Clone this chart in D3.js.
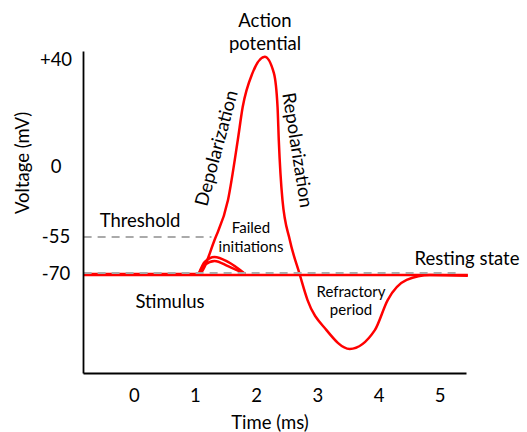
<!DOCTYPE html>
<html>
<head>
<meta charset="utf-8">
<script src="https://cdn.jsdelivr.net/npm/d3@7"></script>
<style>
  body { margin: 0; background: #fff; }
  text { font-family: Lato, "Noto Sans", sans-serif; fill: #000; }
</style>
</head>
<body>
<script>
const w = 527;
const h = 432;

// time (ms) and membrane voltage (mV)
const timeTicks = [0, 1, 2, 3, 4, 5];
const voltTicks = [-70, -55, 0, 40];
const restingV = -70;
const thresholdV = -55;

const apTime = [-0.83, 1.06, 1.32, 1.54, 1.70, 1.78, 1.94, 2.14, 2.29, 2.35, 2.37, 2.43, 2.55, 2.71, 2.84, 3.15, 3.53, 3.94, 4.15, 4.46, 4.84, 5.46];
const apVolt = [-70, -70, -56.2, -25.9, 10.1, 22.4, 35.1, 41.1, 35.1, 22.4, 10.1, -25.9, -56.2, -70, -77.9, -87.0, -92.7, -87.0, -77.9, -71.8, -70.3, -70.5];

// the two failed initiations
const failTime = [1.06, 1.16, 1.32, 1.54, 1.82];
const failVoltA = [-70, -65.1, -63.1, -65.1, -70];
const failVoltB = [-70, -66.3, -64.7, -66.8, -70];

const svg = d3.select("body").append("svg").attr("width", w).attr("height", h);

// scales: the drawing is schematic, so voltage axis is piecewise
const xScale = d3.scaleLinear().domain([-0.83, 5.43]).range([83, 466]);
const yScale = d3
  .scaleLinear()
  .domain([-100, -70, -55, 0, 40, 43])
  .range([373, 274, 237, 167, 60, 51]);

const line = d3
  .line()
  .x((d) => xScale(d[0]))
  .y((d) => yScale(d[1]))
  .curve(d3.curveMonotoneX);

// resting baseline in red
svg
  .append("path")
  .attr("d", line([[-0.83, restingV - 0.3], [5.46, restingV - 0.3]]))
  .attr("fill", "none")
  .attr("stroke", "#ff0000")
  .attr("stroke-width", 2.5);

// failed initiations
[failVoltA, failVoltB].forEach((vs) => {
  svg
    .append("path")
    .attr("d", line(failTime.map((t, i) => [t, vs[i]])))
    .attr("fill", "none")
    .attr("stroke", "#ff0000")
    .attr("stroke-width", 2.5);
});

// action potential
svg
  .append("path")
  .attr("d", line(apTime.map((t, i) => [t, apVolt[i]])))
  .attr("fill", "none")
  .attr("stroke", "#ff0000")
  .attr("stroke-width", 2.5);

// dashed guides
svg
  .append("line")
  .attr("x1", xScale(-0.82))
  .attr("x2", xScale(1.27))
  .attr("y1", yScale(thresholdV))
  .attr("y2", yScale(thresholdV))
  .attr("stroke", "#aaaaaa")
  .attr("stroke-width", 2)
  .attr("stroke-dasharray", "8,6");

svg
  .append("line")
  .attr("x1", xScale(-0.82))
  .attr("x2", xScale(5.33))
  .attr("y1", yScale(restingV + 0.4))
  .attr("y2", yScale(restingV + 0.4))
  .attr("stroke", "#aaaaaa")
  .attr("stroke-width", 2)
  .attr("stroke-dasharray", "8,6");

//axes
const xAxis = d3
  .axisBottom(xScale)
  .tickValues(timeTicks)
  .tickSize(0)
  .tickPadding(16)
  .tickFormat(d3.format("d"));
const yAxis = d3
  .axisLeft(yScale)
  .tickValues(voltTicks)
  .tickSize(0)
  .tickFormat((d) => (d > 0 ? "+" + d : d));

const gx = svg.append("g").attr("transform", "translate(0,373)").call(xAxis);
const gy = svg.append("g").attr("transform", "translate(83,0)").call(yAxis);

[gx, gy].forEach((g) => {
  g.select(".domain").attr("stroke", "#000").attr("stroke-width", 1.8);
  g.selectAll("text").attr("font-size", 18.5).attr("font-family", "Lato");
});
gy.selectAll(".tick text").attr("x", -27).attr("text-anchor", "middle");

// labels
function label(txt, x, y, size, rot) {
  svg
    .append("text")
    .attr("transform", "translate(" + x + "," + y + ")" + (rot ? " rotate(" + rot + ")" : ""))
    .attr("text-anchor", "middle")
    .attr("dy", "0.36em")
    .attr("font-size", size)
    .text(txt);
}

label("Action", 265, 20, 18.5);
label("potential", 265, 43, 18.5);
label("Depolarization", 216, 148, 18.5, -75);
label("Repolarization", 298, 150, 18.5, 81);
label("Threshold", 140, 220, 18.5);
label("Failed", 251, 228, 15);
label("initiations", 251, 247, 15);
label("Stimulus", 170, 301, 18.5);
label("Resting state", 467, 258, 18.5);
label("Refractory", 351, 292, 15);
label("period", 351, 310, 15);
label("Voltage (mV)", 22, 163, 18.5, -90);
label("Time (ms)", 270, 422, 18.5);
</script>
</body>
</html>
